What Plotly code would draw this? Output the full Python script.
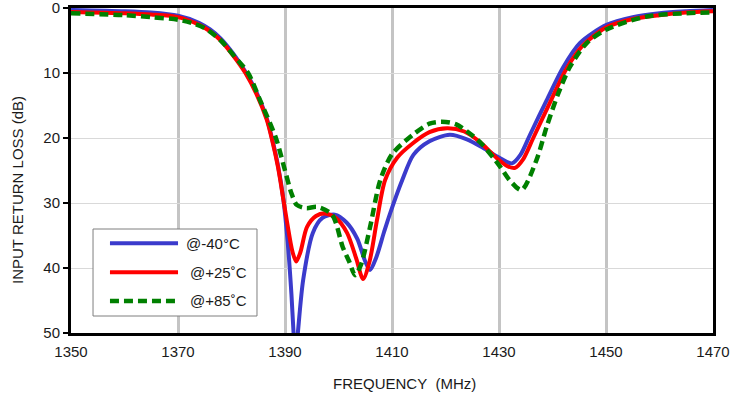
import plotly.graph_objects as go

# ---- data ----
freq_m40 = [1350, 1360, 1365, 1370, 1374, 1376, 1378, 1380.3, 1382.6, 1384.7, 1386.6, 1387.5,
            1388.7, 1389.7, 1390.5, 1391.2, 1391.6, 1391.95, 1392.4, 1393.4, 1395.2,
            1397, 1399.3, 1401.5, 1403.5, 1405, 1405.9, 1407, 1408.5, 1409.6, 1411.9,
            1414, 1417, 1420.8, 1424, 1427, 1430, 1432.4, 1434, 1435.8, 1438.9, 1442,
            1445.1, 1450.1, 1455, 1460, 1465, 1470]
rl_m40 = [0.3, 0.5, 0.7, 1.2, 2.3, 3.3, 4.7, 7.0, 9.8, 13.0, 17.0, 19.8,
          24.3, 29.5, 36.0, 44.0, 50.0, 54.0, 50.0, 41.8, 34.6,
          32.3, 31.8, 33.0, 35.5, 39.0, 40.3, 38.5, 34.5, 31.7, 26.5,
          22.6, 20.5, 19.5, 20.2, 21.5, 23.0, 23.9, 22.6, 19.5, 14.2, 9.1,
          5.4, 2.6, 1.4, 0.8, 0.5, 0.3]

freq_p25 = [1350, 1360, 1365, 1370, 1374, 1376, 1378, 1380.3, 1382.6, 1384.7, 1386.6, 1387.5,
            1388.7, 1389.7, 1390.4, 1391.4, 1392.1, 1392.9, 1394.1, 1395.8, 1397.5,
            1399.5, 1401.6, 1403.3, 1404.6, 1405.8, 1407.2, 1408.7, 1411, 1413.9, 1417,
            1420.3, 1423.5, 1426.4, 1429.6, 1431.5, 1433, 1434.5, 1436.4, 1439.5,
            1442.5, 1445.5, 1450, 1455, 1460, 1465, 1470]
rl_p25 = [0.6, 0.8, 1.0, 1.4, 2.6, 3.6, 5.0, 7.3, 10.0, 13.3, 17.2, 20.0,
          24.5, 29.5, 33.0, 37.5, 39.0, 37.5, 33.7, 32.0, 31.6,
          32.3, 34.6, 38.5, 41.7, 39.0, 32.6, 26.5, 23.0, 20.8, 19.1,
          18.5, 19.0, 20.6, 23.1, 24.3, 24.6, 23.3, 20.0, 14.6,
          9.5, 5.9, 3.0, 1.7, 1.1, 0.7, 0.5]

freq_p85 = [1350, 1360, 1365, 1370, 1372.5, 1375, 1378, 1380.5, 1383.1, 1385.5, 1388.3, 1390,
            1391.2, 1392.2, 1394, 1396, 1398.8, 1400.8, 1402, 1403.1, 1404.2, 1405.9,
            1407.8, 1410, 1413.9, 1417, 1419.3, 1422, 1426.4, 1430.2, 1432, 1434.2,
            1437, 1438.9, 1441.1, 1443.3, 1446.4, 1450.1, 1457.6, 1465, 1470]
rl_p85 = [0.8, 1.1, 1.4, 1.8, 2.3, 3.1, 5.0, 7.4, 10.0, 14.5, 20.0, 25.0,
          28.5, 30.3, 30.8, 30.6, 31.8, 36.8, 39.0, 41.1, 39.5, 33.7,
          26.5, 22.5, 19.5, 17.8, 17.5, 17.9, 20.6, 24.4, 26.5, 28.0,
          23.4, 18.3, 13.1, 9.0, 5.4, 3.3, 1.3, 0.8, 0.7]

series_names = ["@-40°C", "@+25˚C", "@+85˚C"]
x_ticks = [1350, 1370, 1390, 1410, 1430, 1450, 1470]
y_ticks = [0, 10, 20, 30, 40, 50]
x_title = "FREQUENCY\u00a0\u00a0(MHz)"
y_title = "INPUT RETURN LOSS (dB)"

# ---- styles ----
BLUE = "#3b3bcc"
RED = "#ff0000"
GREEN = "#008000"
FONT = "Liberation Sans, Arial, sans-serif"
TXT = "#1a1a1a"
DASH = "9px,5px"

fig = go.Figure()
fig.add_trace(go.Scatter(x=freq_m40, y=rl_m40, mode="lines", name=series_names[0],
                         line=dict(color=BLUE, width=4, shape="spline", smoothing=0.8)))
fig.add_trace(go.Scatter(x=freq_p25, y=rl_p25, mode="lines", name=series_names[1],
                         line=dict(color=RED, width=4, shape="spline", smoothing=0.8)))
fig.add_trace(go.Scatter(x=freq_p85, y=rl_p85, mode="lines", name=series_names[2],
                         line=dict(color=GREEN, width=4.5, dash=DASH,
                                   shape="spline", smoothing=0.8)))

# manual legend (box, line samples, labels)
fig.add_shape(type="rect", xref="paper", yref="paper", x0=0.0343, x1=0.2897,
              y0=0.0523, y1=0.32, line=dict(color="#7f7f7f", width=1),
              fillcolor="white", layer="above")
rows_y = [0.276, 0.1868, 0.0985]
colors = [BLUE, RED, GREEN]
dashes = ["solid", "solid", DASH]
text_x = [0.176, 0.182, 0.182]
for i in range(3):
    fig.add_shape(type="line", xref="paper", yref="paper", x0=0.0607, x1=0.1667,
                  y0=rows_y[i], y1=rows_y[i], layer="above",
                  line=dict(color=colors[i], width=4 if i < 2 else 4.5, dash=dashes[i]))
    fig.add_annotation(xref="paper", yref="paper", x=text_x[i], y=rows_y[i],
                       text=series_names[i], showarrow=False, xanchor="left",
                       yanchor="middle", font=dict(family=FONT, size=15, color=TXT))

# axis titles
fig.add_annotation(xref="paper", yref="paper", x=0.52, y=-0.154, text=x_title,
                   showarrow=False, xanchor="center", yanchor="middle",
                   font=dict(family=FONT, size=15, color=TXT))
fig.add_annotation(xref="paper", yref="paper", x=-0.0841, y=0.44, text=y_title,
                   textangle=-90, showarrow=False, xanchor="center", yanchor="middle",
                   font=dict(family=FONT, size=15, color=TXT))

fig.update_layout(
    width=730, height=396,
    margin=dict(l=71, r=17, t=8, b=63),
    paper_bgcolor="white", plot_bgcolor="white",
    showlegend=False,
    font=dict(family=FONT, size=15, color=TXT),
)
fig.update_xaxes(range=[1350, 1470], tickvals=x_ticks, ticktext=[str(v) for v in x_ticks],
                 automargin=False, ticklabeloverflow="allow",
                 showgrid=True, gridcolor="#c4c4c4", gridwidth=2.5,
                 showline=True, linecolor="black", linewidth=3, mirror=True,
                 ticks="", zeroline=False, ticklabelstandoff=3,
                 tickfont=dict(family=FONT, size=15, color=TXT))
fig.update_yaxes(range=[50, 0], tickvals=y_ticks, ticktext=[str(v) for v in y_ticks],
                 automargin=False, ticklabeloverflow="allow",
                 showgrid=True, gridcolor="#d9d9d9", gridwidth=1,
                 showline=True, linecolor="black", linewidth=3, mirror=True,
                 ticks="outside", ticklen=5, tickwidth=2, tickcolor="black",
                 zeroline=False,
                 tickfont=dict(family=FONT, size=15, color=TXT))

fig.write_html("out.html")
